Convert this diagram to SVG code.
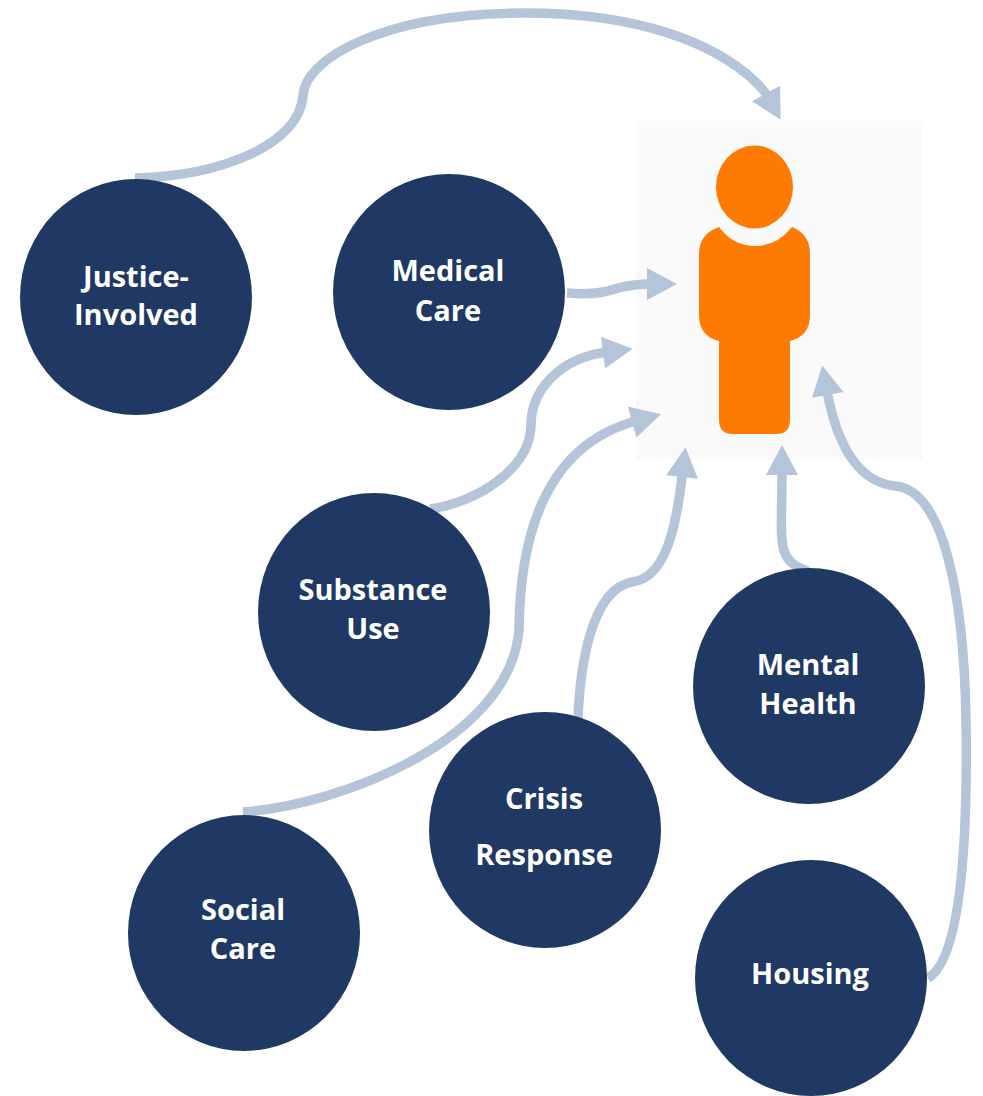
<svg xmlns="http://www.w3.org/2000/svg" width="983" height="1096" viewBox="0 0 983 1096">
<defs>
<marker id="ah" markerUnits="userSpaceOnUse" markerWidth="32" markerHeight="32" viewBox="0 0 32 32" refX="4" refY="16" orient="auto" overflow="visible"><path d="M0 0 L30 16 L0 32 Z" fill="#b4c5da"/></marker>
</defs>
<style>
.n{fill:#203864}
.t{font-family:"Open Sans","Liberation Sans",sans-serif;font-weight:700;font-size:29px;fill:#fff;text-anchor:middle}
.c{fill:none;stroke:#b4c5da;stroke-width:9.5;marker-end:url(#ah)}
</style>
<rect x="636" y="121" width="287" height="339" fill="#fafafa"/>
<g id="person" fill="#ff7a00">
<ellipse cx="754.500" cy="187" rx="38.500" ry="41.500"/>
<path d="M719 227 Q733 246 755 246 Q777 246 792 227 Q810 234 810 254 L810 315 Q810 336 790 341 L790 420 Q790 434 776 434 L733 434 Q719 434 719 420 L719 341 Q699 336 699 315 L699 254 Q699 234 719 227 Z"/>
</g>
<g id="connectors">
<path class="c" d="M135 178 C220 176 300 145 303 95 C305 60 380 14 520 13 C620 12 700 35 748 75 C756 82 763 88 768 97"/>
<path class="c" d="M567 293 C590 295 605 293 618 288 C630 285 640 284 651 284"/>
<path class="c" d="M430 509 C475 503 530 470 531 425 C531 390 560 358 607 352"/>
<path class="c" d="M243 812 C340 805 510 740 519 630 C520 530 548 445 636 421"/>
<path class="c" d="M578 718 C580 670 590 590 632 582 C665 578 676 530 682.500 473"/>
<path class="c" d="M808 571 C775 560 782 545 782 471"/>
<path class="c" d="M928 978 C960 960 968 850 966 720 C964 600 945 490 895 486 C860 482 838 450 827 391"/>
</g>
<g id="justice"><ellipse class="n" cx="136" cy="297" rx="116" ry="118"/><text class="t" x="136" y="287">Justice-</text><text class="t" x="136" y="325">Involved</text></g>
<g id="medical"><ellipse class="n" cx="449" cy="292" rx="116" ry="118"/><text class="t" x="448" y="281">Medical</text><text class="t" x="448" y="321">Care</text></g>
<g id="substance"><ellipse class="n" cx="374" cy="612" rx="116" ry="119"/><text class="t" x="373" y="600">Substance</text><text class="t" x="373" y="639">Use</text></g>
<g id="mental"><ellipse class="n" cx="809" cy="686" rx="116" ry="118"/><text class="t" x="808" y="675">Mental</text><text class="t" x="808" y="714">Health</text></g>
<g id="crisis"><ellipse class="n" cx="545" cy="830" rx="116" ry="118"/><text class="t" x="544" y="809">Crisis</text><text class="t" x="544" y="865">Response</text></g>
<g id="social"><ellipse class="n" cx="244" cy="933" rx="116" ry="118"/><text class="t" x="243" y="920">Social</text><text class="t" x="243" y="959">Care</text></g>
<g id="housing"><ellipse class="n" cx="811" cy="978" rx="116" ry="118"/><text class="t" x="810" y="984">Housing</text></g>
</svg>
